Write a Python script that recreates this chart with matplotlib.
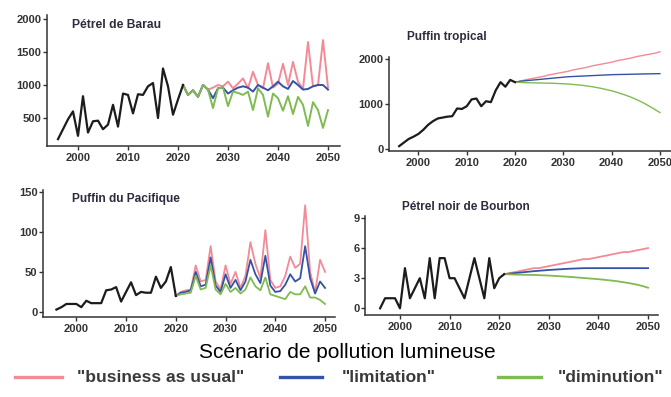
import matplotlib
matplotlib.use("Agg")
import matplotlib.pyplot as plt
from matplotlib.lines import Line2D

plt.rcParams['font.family'] = ['Liberation Sans', 'DejaVu Sans']

# ---------------- data ----------------
# Pétrel de Barau
barau_years_obs = list(range(1996, 2022))
barau_obs = [180, 330, 480, 600, 230, 830, 280, 450, 460, 330, 400, 700, 370,
             870, 850, 570, 860, 850, 980, 1030, 500, 1250, 980, 550, 780, 1000]
barau_years_proj = list(range(2021, 2051))
barau_bau = [1000, 850, 920, 820, 1000, 930, 960, 1000, 980, 1050,
             950, 1020, 1100, 950, 1200, 1000, 950, 1330, 960, 1020,
             1320, 1000, 1350, 1050, 940, 1650, 980, 1000, 1680, 960]
barau_lim = [1000, 850, 920, 820, 1000, 930, 800, 950, 960, 870,
             920, 960, 980, 960, 900, 1000, 960, 920, 980, 1050,
             980, 940, 1060, 1000, 930, 940, 980, 1000, 1000, 930]
barau_dim = [1000, 850, 920, 820, 1000, 930, 650, 950, 960, 680,
             900, 880, 850, 900, 620, 950, 850, 520, 870, 800,
             610, 830, 560, 820, 700, 380, 740, 620, 350, 620]

# Puffin tropical
tropical_years_obs = list(range(1996, 2021))
tropical_obs = [70, 150, 230, 280, 340, 430, 540, 620, 680, 700, 720, 730, 900,
                890, 950, 1100, 1120, 950, 1060, 1040, 1300, 1480, 1380, 1530, 1480]
tropical_years_proj = list(range(2020, 2051))
tropical_bau = [1480, 1500, 1530, 1550, 1570, 1590, 1610, 1640, 1660, 1680,
                1700, 1720, 1750, 1770, 1790, 1810, 1840, 1860, 1880, 1900,
                1920, 1950, 1970, 1990, 2010, 2040, 2060, 2080, 2100, 2120, 2150]
tropical_lim = [1480, 1500, 1510, 1520, 1530, 1540, 1550, 1560, 1570, 1580,
                1590, 1600, 1605, 1610, 1615, 1620, 1625, 1630, 1635, 1640,
                1645, 1648, 1650, 1652, 1655, 1657, 1660, 1662, 1664, 1666, 1668]
tropical_dim = [1480, 1475, 1470, 1468, 1465, 1462, 1460, 1458, 1455, 1450,
                1445, 1440, 1430, 1420, 1410, 1395, 1380, 1360, 1340, 1315,
                1290, 1260, 1225, 1190, 1150, 1105, 1055, 1000, 940, 875, 810]

# Puffin du Pacifique
pacifique_years_obs = list(range(1996, 2021))
pacifique_obs = [3, 6, 10, 10, 10, 6, 14, 11, 11, 11, 27, 28, 31, 13, 25, 37,
                 21, 25, 24, 24, 44, 30, 38, 56, 20]
pacifique_years_proj = list(range(2020, 2051))
pacifique_bau = [20, 25, 27, 28, 58, 38, 40, 82, 38, 28, 58, 35, 50, 30, 45, 87,
                 60, 42, 102, 40, 30, 32, 45, 69, 55, 60, 133, 50, 24, 65, 50]
pacifique_lim = [20, 24, 25, 27, 50, 32, 34, 68, 33, 25, 47, 30, 40, 27, 38, 65,
                 47, 36, 70, 33, 25, 26, 34, 47, 38, 42, 82, 42, 23, 38, 30]
pacifique_dim = [20, 22, 23, 24, 45, 28, 30, 58, 28, 22, 35, 25, 30, 23, 28, 43,
                 32, 27, 43, 22, 20, 18, 16, 25, 22, 22, 32, 18, 18, 15, 10]

# Pétrel noir de Bourbon
bourbon_years_obs = list(range(1996, 2022))
bourbon_obs = [0, 1, 1, 1, 0, 4, 1, 2, 3, 1, 5, 1, 5, 5, 3, 3, 2, 1, 3, 5, 3, 1,
               5, 2, 3, 3.4]
bourbon_years_proj = list(range(2021, 2051))
bourbon_bau = [3.4, 3.5, 3.6, 3.7, 3.8, 3.9, 4.0, 4.0, 4.1, 4.2, 4.3, 4.4, 4.5,
               4.6, 4.7, 4.8, 4.9, 4.9, 5.0, 5.1, 5.2, 5.3, 5.4, 5.5, 5.6, 5.6,
               5.7, 5.8, 5.9, 6.0]
bourbon_lim = [3.4, 3.45, 3.5, 3.55, 3.6, 3.65, 3.7, 3.74, 3.78, 3.82, 3.85,
               3.88, 3.91, 3.94, 3.96, 3.98, 4.0, 4.0, 4.0, 4.0, 4.0, 4.0, 4.0,
               4.0, 4.0, 4.0, 4.0, 4.0, 4.0, 4.0]
bourbon_dim = [3.4, 3.38, 3.36, 3.35, 3.34, 3.33, 3.32, 3.3, 3.28, 3.26, 3.23,
               3.2, 3.17, 3.14, 3.1, 3.06, 3.02, 2.98, 2.94, 2.9, 2.85, 2.8,
               2.74, 2.68, 2.6, 2.52, 2.43, 2.33, 2.2, 2.05]

x_ticks = [2000, 2010, 2020, 2030, 2040, 2050]
scenario_labels = ['"business as usual"', '"limitation"', '"diminution"']

# ---------------- style ----------------
C_BAU = "#f38a95"
C_LIM = "#3553a6"
C_DIM = "#80bb52"
C_OBS = "#1c1c1c"
C_AX = "#333333"
C_TITLE = "#2e2b3d"

W, H = 671, 397
fig = plt.figure(figsize=(W / 100, H / 100), dpi=100)
fig.patch.set_facecolor("white")


def panel(left, right, top, bottom, xlim, ylim, yticks):
    ax = fig.add_axes([left / W, 1 - bottom / H, (right - left) / W, (bottom - top) / H])
    ax.set_xlim(*xlim)
    ax.set_ylim(*ylim)
    for s in ("top", "right"):
        ax.spines[s].set_visible(False)
    for s in ("left", "bottom"):
        ax.spines[s].set_color(C_AX)
        ax.spines[s].set_linewidth(1.1)
    ax.set_xticks(x_ticks)
    ax.set_yticks(yticks)
    ax.tick_params(axis="both", direction="out", length=3, width=1, color=C_AX,
                   labelsize=8, labelcolor=C_AX)
    ax.tick_params(axis="x", pad=2)
    ax.tick_params(axis="y", pad=1)
    for lab in ax.get_xticklabels() + ax.get_yticklabels():
        lab.set_fontweight("bold")
    ax.set_facecolor("none")
    return ax


def draw(ax, yo, obs, yp, bau, lim, dim, lw_proj, lw_obs=1.6):
    ax.plot(yp, bau, color=C_BAU, lw=lw_proj, clip_on=False, solid_joinstyle="round")
    ax.plot(yp, lim, color=C_LIM, lw=lw_proj, clip_on=False, solid_joinstyle="round")
    ax.plot(yp, dim, color=C_DIM, lw=lw_proj, clip_on=False, solid_joinstyle="round")
    ax.plot(yo, obs, color=C_OBS, lw=lw_obs, clip_on=False, solid_joinstyle="round")


# Pétrel de Barau
ax1 = panel(47, 340, 15, 146, (1993.8, 2052.4), (76, 2060), [500, 1000, 1500, 2000])
draw(ax1, barau_years_obs, barau_obs, barau_years_proj, barau_bau, barau_lim, barau_dim, 1.4)
fig.text(72 / W, 1 - 25 / H, "Pétrel de Barau", fontsize=8.7, fontweight="bold",
         color=C_TITLE, ha="left", va="center")

# Puffin tropical
ax2 = panel(389, 671, 57, 151, (1993.9, 2052.3), (-37, 2035), [0, 1000, 2000])
draw(ax2, tropical_years_obs, tropical_obs, tropical_years_proj, tropical_bau,
     tropical_lim, tropical_dim, 1.0)
fig.text(407 / W, 1 - 37 / H, "Puffin tropical", fontsize=8.5, fontweight="bold",
         color=C_TITLE, ha="left", va="center")

# Puffin du Pacifique
ax3 = panel(43, 335, 190, 317, (1993.3, 2052.0), (-6.25, 152), [0, 50, 100, 150])
draw(ax3, pacifique_years_obs, pacifique_obs, pacifique_years_proj, pacifique_bau,
     pacifique_lim, pacifique_dim, 1.3)
fig.text(72 / W, 1 - 199 / H, "Puffin du Pacifique", fontsize=8.6, fontweight="bold",
         color=C_TITLE, ha="left", va="center")

# Pétrel noir de Bourbon
ax4 = panel(365, 658, 216, 315, (1992.95, 2052.0), (-0.67, 9.2), [0, 3, 6, 9])
draw(ax4, bourbon_years_obs, bourbon_obs, bourbon_years_proj, bourbon_bau,
     bourbon_lim, bourbon_dim, 1.3)
fig.text(402 / W, 1 - 207 / H, "Pétrel noir de Bourbon", fontsize=8.5, fontweight="bold",
         color=C_TITLE, ha="left", va="center")

# Scenario key
fig.text(347 / W, 1 - 352 / H, "Scénario de pollution lumineuse", fontsize=15,
         color="black", ha="center", va="center")

key_y = 1 - 377 / H
keys = [(15, 62, 77, C_BAU), (280, 322, 342, C_LIM), (498, 541, 558, C_DIM)]
for (x0, x1, xt, col), label in zip(keys, scenario_labels):
    fig.add_artist(Line2D([x0 / W, x1 / W], [key_y, key_y], transform=fig.transFigure,
                          color=col, lw=2.4))
    fig.text(xt / W, key_y, label, fontsize=12.5, fontweight="bold", color="#3a3a3a",
             ha="left", va="center")

fig.savefig("out.png", dpi=100, facecolor="white")
